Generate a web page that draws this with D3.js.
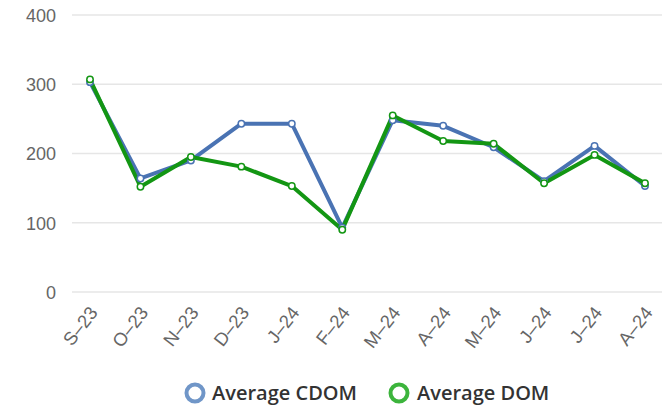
<!DOCTYPE html>
<html><head><meta charset="utf-8">
<script src="https://cdn.jsdelivr.net/npm/d3@7"></script>
<style>body{margin:0;background:#fff;}svg{display:block;font-family:"Open Sans",sans-serif;}</style>
</head><body>
<svg id="c" width="666" height="417"></svg>
<script>
const categories = ["S–23","O–23","N–23","D–23","J–24","F–24","M–24","A–24","M–24","J–24","J–24","A–24"];
const cdom = [303,164,190,243,243,93,248,240,209,160,211,153];
const dom  = [307,152,195,181,153,90,255,218,214,157,198,157];
const yTicks = [0,100,200,300,400];
const seriesNames = ["Average CDOM","Average DOM"];

const svg = d3.select("#c");
const x = d3.scalePoint().domain(d3.range(categories.length)).range([90,645]);
const y = d3.scaleLinear().domain([0,400]).range([292,15]);

// grid
svg.append("g").selectAll("line").data(yTicks).join("line")
  .attr("x1",72).attr("x2",662).attr("y1",d=>y(d)).attr("y2",d=>y(d))
  .attr("stroke","#e6e6e6").attr("stroke-width",1.5);

const yAxis = d3.axisLeft(y).tickValues(yTicks).tickSize(0).tickPadding(0);
const gy = svg.append("g").attr("transform","translate(56,0)").call(yAxis);
gy.select(".domain").remove();
gy.selectAll("text").attr("fill","#666").style("font-size","18px").attr("dy","0.35em").attr("text-anchor","end");

const xAxis = d3.axisBottom(x).tickFormat(i=>categories[i]).tickSize(0).tickPadding(0);
const gx = svg.append("g").attr("transform","translate(0,300)").call(xAxis);
gx.select(".domain").remove();
gx.selectAll("text").attr("fill","#666").style("font-size","18.5px")
  .attr("text-anchor","end").attr("dy","0.35em")
  .attr("transform","translate(3,9) rotate(-52)").attr("y",0).attr("x",0);

const colors = ["#4a73b3","#139613"];
const line = d3.line().x((d,i)=>x(i)).y(d=>y(d));
[cdom,dom].forEach((s,k)=>{
  svg.append("path").datum(s).attr("d",line).attr("fill","none")
    .attr("stroke",colors[k]).attr("stroke-width",4).attr("stroke-linejoin","round");
});
[cdom,dom].forEach((s,k)=>{
  svg.append("g").selectAll("circle").data(s).join("circle")
    .attr("cx",(d,i)=>x(i)).attr("cy",d=>y(d)).attr("r",3.2)
    .attr("fill","#fff").attr("stroke",colors[k]).attr("stroke-width",1.5);
});

// legend
const legColors = ["#7096c8","#3cb43c"];
const leg = [{cx:195,tx:212},{cx:399,tx:417}];
seriesNames.forEach((n,k)=>{
  svg.append("circle").attr("cx",leg[k].cx).attr("cy",393).attr("r",8.5)
    .attr("fill","none").attr("stroke",legColors[k]).attr("stroke-width",4);
  svg.append("text").attr("x",leg[k].tx).attr("y",393).attr("dy","0.36em")
    .attr("fill","#333").style("font-size","20px").style("font-weight","600").text(n);
});
</script>
</body></html>
